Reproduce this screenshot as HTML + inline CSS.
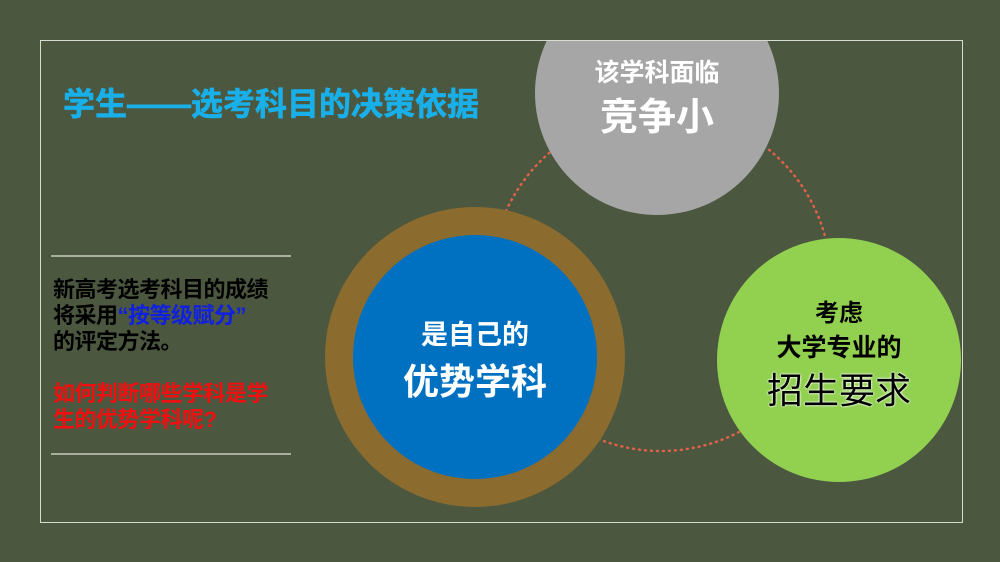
<!DOCTYPE html>
<html><head><meta charset="utf-8"><style>
body{margin:0;width:1000px;height:562px;background:#4b573f;overflow:hidden;font-family:"Liberation Sans","Noto Sans CJK SC",sans-serif;}
#f{position:absolute;left:40px;top:40px;width:921px;height:481px;border:1px solid #d8dcd0;overflow:hidden;}
.c{position:absolute;border-radius:50%;}
.t{position:absolute;text-align:center;font-weight:bold;white-space:nowrap;}
</style></head><body>
<div id="f">
<svg style="position:absolute;left:0;top:0" width="921" height="481"><circle cx="620" cy="240" r="170" fill="none" stroke="#e0614a" stroke-width="2.5" stroke-dasharray="1 5" stroke-linecap="round"/></svg>
<div class="c" style="left:494px;top:-70px;width:244px;height:244px;background:#a6a6a6"></div>
<div class="c" style="left:676px;top:197px;width:244px;height:244px;background:#92d050"></div>
<div class="c" style="left:284px;top:166px;width:300px;height:300px;background:#8b6b2e"></div>
<div class="c" style="left:312px;top:194px;width:244px;height:244px;background:#0070c0"></div>
<div class="t" style="left:22px;top:38px;font-size:32px;color:#19b0ea;-webkit-text-stroke:0.6px #19b0ea">学生——选考科目的决策依据</div>
<div style="position:absolute;left:10px;top:214px;width:240px;border-top:2px solid #a9ae9f"></div>
<div style="position:absolute;left:10px;top:412px;width:240px;border-top:2px solid #a9ae9f"></div>
<div style="position:absolute;left:12px;top:236px;font-size:22px;font-weight:bold;line-height:26px;color:#000;letter-spacing:-0.5px">新高考选考科目的成绩<br>将采用<span style="color:#1020e0">“按等级赋分”</span><br>的评定方法。<br><br><span style="color:#f01010">如何判断哪些学科是学<br>生的优势学科呢?</span></div>
<div class="t" style="left:494px;width:244px;top:12px;font-size:25px;color:#fff">该学科面临</div>
<div class="t" style="left:494px;width:244px;top:45px;font-size:38px;color:#fff">竞争小</div>
<div class="t" style="left:312px;width:244px;top:272px;font-size:27px;color:#fff">是自己的</div>
<div class="t" style="left:312px;width:244px;top:312px;font-size:36px;color:#fff">优势学科</div>
<div class="t" style="left:676px;width:244px;top:252px;font-size:24px;color:#000">考虑</div>
<div class="t" style="left:676px;width:244px;top:287px;font-size:25px;color:#000">大学专业的</div>
<div class="t" style="left:676px;width:244px;top:321px;font-size:36px;color:#000;font-weight:normal;text-shadow:0 0 2px #fff,0 0 2px #fff">招生要求</div>
</div>
</body></html>
